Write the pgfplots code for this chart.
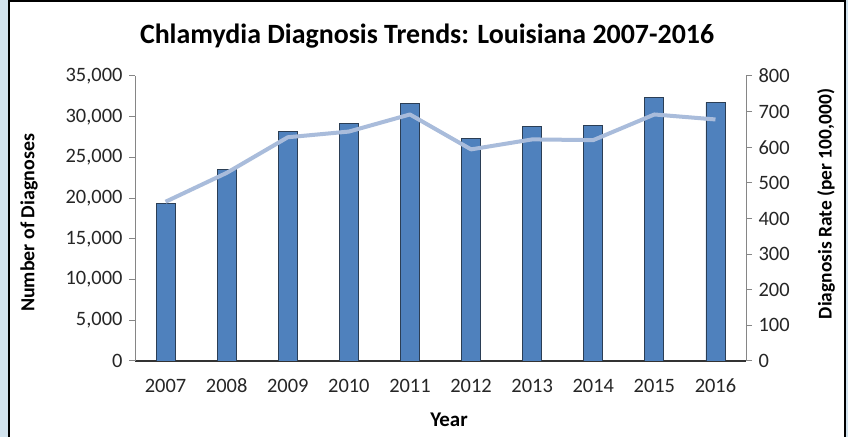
\documentclass[border=0pt]{standalone}
\usepackage{pgfplots}
\pgfplotsset{compat=1.18}
\usepackage{fontspec}
\setmainfont{Carlito}
\definecolor{barblue}{HTML}{4F81BD}
\definecolor{bardraw}{HTML}{2B3E55}
\definecolor{linblue}{HTML}{A9BCDB}
\definecolor{axgray}{HTML}{868686}
\definecolor{bgblue}{HTML}{D2E3EE}
\definecolor{txt}{HTML}{262626}
\begin{document}
\begin{tikzpicture}[x=1bp,y=1bp]
\useasboundingbox (0,0) rectangle (848,437);
\fill[bgblue] (0,0) rectangle (848,437);
\begin{scope}
\clip (0,0) rectangle (848,437);
\filldraw[fill=white, draw=black, line width=2.5bp] (9,-10) rectangle (845,436);
\end{scope}
\pgfplotsset{
  common/.style={
    at={(135bp,76bp)}, anchor=south west,
    scale only axis, width=611bp, height=285bp,
    xmin=-0.5, xmax=9.5,
    tick align=outside, major tick length=6bp,
    ticklabel style={font=\fontsize{20.5}{24}\selectfont, text=txt},
    /pgf/number format/assume math mode=true,
    /pgf/number format/1000 sep={,},
    scaled y ticks=false,
  }
}
\begin{axis}[common,
  ymin=0, ymax=35000, ytick={0,5000,...,35000},
  axis y line*=left, axis x line*=bottom,
  y axis line style={draw=axgray, line width=1bp},
  x axis line style={draw=black!80, line width=1.2bp},
  ytick style={draw=axgray, line width=1bp},
  xtick={0,...,9}, xticklabels={2007,2008,2009,2010,2011,2012,2013,2014,2015,2016},
  xtick style={draw=none},
  xticklabel style={yshift=-8bp, text height=14bp, text depth=2bp},
  yticklabel style={xshift=-3bp},
  ybar, bar width=19bp,
]
\addplot[fill=barblue, draw=bardraw, line width=0.8bp] coordinates {
(0,19350) (1,23550) (2,28200) (3,29150) (4,31650)
(5,27350) (6,28780) (7,28900) (8,32350) (9,31770)};
\end{axis}
\begin{axis}[common,
  ymin=0, ymax=800, ytick={0,100,...,800},
  axis y line*=right, axis x line=none,
  y axis line style={draw=axgray, line width=1bp},
  ytick style={draw=axgray, line width=1bp},
  yticklabel style={xshift=3bp},
]
\addplot[linblue, line width=4bp, line join=round, no marks] coordinates {
(0,447) (1,528) (2,628) (3,644) (4,692)
(5,594) (6,622) (7,620) (8,692) (9,678)};
\end{axis}
\node[font=\fontsize{28}{32}\selectfont\bfseries, text=black] at (427,401) {Chlamydia Diagnosis Trends: Louisiana 2007-2016};
\node[font=\fontsize{21}{24}\selectfont\bfseries, text=black] at (449,17) {Year};
\node[font=\fontsize{20}{24}\selectfont\bfseries, text=black, rotate=90] at (29,214) {Number of Diagnoses};
\node[font=\fontsize{19.5}{24}\selectfont\bfseries, text=black, rotate=90] at (826,233) {Diagnosis Rate (per 100,000)};
\end{tikzpicture}
\end{document}
